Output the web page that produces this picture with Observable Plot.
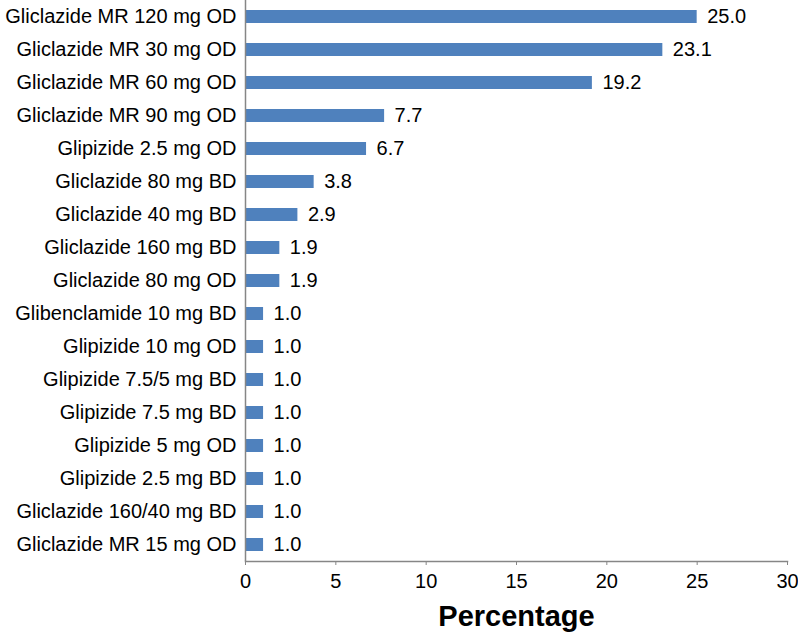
<!DOCTYPE html>
<html>
<head>
<meta charset="utf-8">
<script src="https://cdn.jsdelivr.net/npm/d3@7"></script>
<script src="https://cdn.jsdelivr.net/npm/@observablehq/plot@0.6"></script>
<style>
  html, body { margin: 0; padding: 0; background: #fff; }
  #chart svg { display: block; font-family: "Liberation Sans", Arial, sans-serif; }
  #chart g[aria-label="x-axis label"] text { font-size: 29px; font-weight: bold; fill: #000; }
</style>
</head>
<body>
<div id="chart"></div>
<script>
const categories = [
  "Gliclazide MR 120 mg OD",
  "Gliclazide MR 30 mg OD",
  "Gliclazide MR 60 mg OD",
  "Gliclazide MR 90 mg OD",
  "Glipizide 2.5 mg OD",
  "Gliclazide 80 mg BD",
  "Gliclazide 40 mg BD",
  "Gliclazide 160 mg BD",
  "Gliclazide 80 mg OD",
  "Glibenclamide 10 mg BD",
  "Glipizide 10 mg OD",
  "Glipizide 7.5/5 mg BD",
  "Glipizide 7.5 mg BD",
  "Glipizide 5 mg OD",
  "Glipizide 2.5 mg BD",
  "Gliclazide 160/40 mg BD",
  "Gliclazide MR 15 mg OD"
];
const percentages = [25.0, 23.1, 19.2, 7.7, 6.7, 3.8, 2.9, 1.9, 1.9, 1.0, 1.0, 1.0, 1.0, 1.0, 1.0, 1.0, 1.0];
const xTicks = [0, 5, 10, 15, 20, 25, 30];

const data = categories.map((c, i) => ({category: c, value: percentages[i]}));

const plot = Plot.plot({
  width: 798,
  height: 634,
  marginTop: 0,
  marginBottom: 73,
  marginLeft: 245,
  marginRight: 11,
  style: {fontSize: "20px", fontFamily: "'Liberation Sans', Arial, sans-serif", color: "#000"},
  x: {domain: [0, 30], ticks: xTicks},
  y: {domain: categories, paddingInner: 0.6, paddingOuter: 0.29},
  marks: [
    Plot.barX(data, {x: "value", y: "category", fill: "#4F81BD"}),
    Plot.text(data, {x: "value", y: "category", text: d => d.value.toFixed(1), textAnchor: "start", dx: 10, fontSize: 20, fill: "#000"}),
    Plot.ruleX([0], {stroke: "#868686", strokeWidth: 1.5}),
    Plot.frame({anchor: "bottom", stroke: "#868686", strokeWidth: 1.5}),
    Plot.axisX({ticks: xTicks, tickSize: 4, tickPadding: 8, stroke: "#868686", fill: "#000", fontSize: 20,
      label: "Percentage", labelAnchor: "center", labelArrow: "none", labelOffset: 64}),
    Plot.axisY({tickSize: 0, tickPadding: 9, fontSize: 20, fill: "#000", label: null})
  ]
});
document.getElementById("chart").appendChild(plot);
</script>
</body>
</html>
